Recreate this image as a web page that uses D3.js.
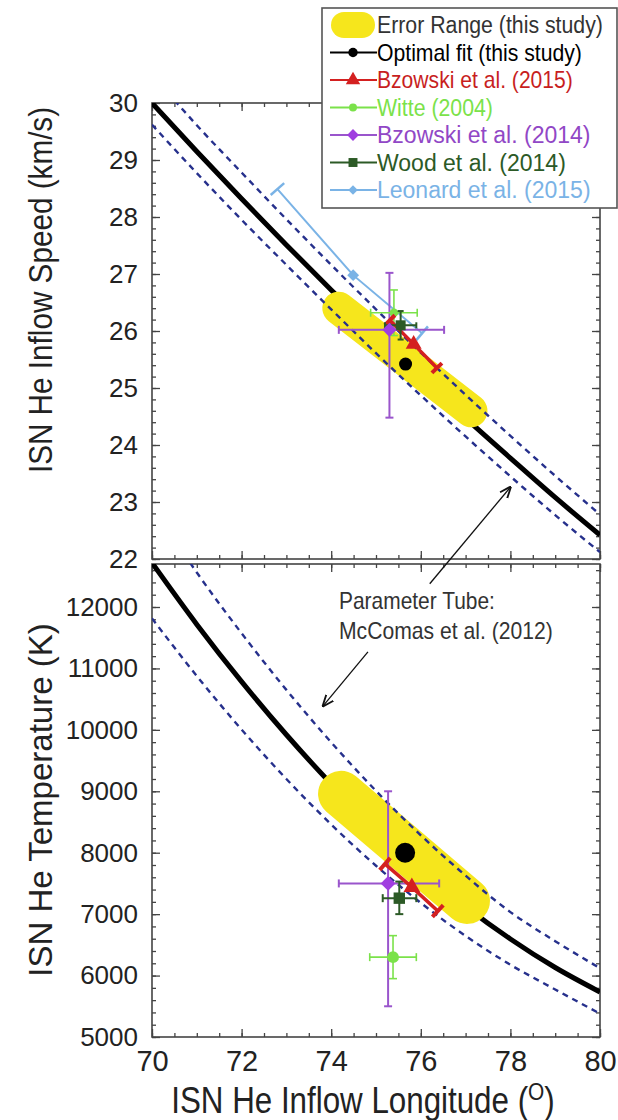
<!DOCTYPE html>
<html lang="en">
<head>
<meta charset="UTF-8" />
<title>ISN He inflow parameters</title>
<script src="https://cdnjs.cloudflare.com/ajax/libs/d3/7.8.5/d3.min.js"></script>
<style>
  body { margin: 0; background: #fff; }
  svg { font-family: "Liberation Sans", Arial, sans-serif; }
  .axis path { display: none; }
  .axis line { stroke: #444; stroke-width: 1.3; }
  .axis text { fill: #222; }
</style>
</head>
<body>
<svg id="chart" width="618" height="1120"></svg>
<script>
// ---- data ----
const lonTicks = [70, 72, 74, 76, 78, 80];
const speedTicks = [22, 23, 24, 25, 26, 27, 28, 29, 30];
const tempTicks = [5000, 6000, 7000, 8000, 9000, 10000, 11000, 12000];

// parameter tube, McComas et al. (2012)
const tubeLon = [70, 71, 72, 73, 74, 75, 76, 77, 78, 79, 80];
const tubeSpeed = [30.0, 29.15, 28.32, 27.51, 26.72, 25.95, 25.2, 24.47, 23.77, 23.08, 22.42];
const tubeSpeedLower = [29.62, 28.77, 27.95, 27.16, 26.38, 25.61, 24.87, 24.15, 23.45, 22.77, 22.12];
const tubeSpeedUpperLon = [70.5, 71, 72, 73, 74, 75, 76, 77, 78, 79, 80];
const tubeSpeedUpper = [30.05, 29.61, 28.78, 27.96, 27.16, 26.38, 25.62, 24.88, 24.16, 23.46, 22.78];
const tubeTemp = [12720, 11717, 10785, 9920, 9121, 8389, 7724, 7126, 6595, 6131, 5733];
const tubeTempLower = [11815, 10876, 10005, 9200, 8460, 7788, 7183, 6646, 6176, 5774, 5380];
const tubeTempUpperLon = [70.85, 71, 72, 73, 74, 75, 76, 77, 78, 79, 80];
const tubeTempUpper = [12720, 12562, 11572, 10651, 9797, 9007, 8284, 7627, 7033, 6560, 6120];

// this study
const errorRangeSpeed = [[74.17, 26.4], [77.12, 24.6]];
const errorRangeTemp = [[74.22, 8958], [77.03, 7215]];
const optimalSpeed = [75.66, 25.42];
const optimalTemp = [75.65, 8000];

// cross error bars: [lon, lonLo, lonHi, value, valueLo, valueHi]
const bzowski14Speed = [75.3, 74.17, 76.52, 26.02, 24.48, 27.02];
const bzowski14Temp = [75.27, 74.17, 76.41, 7500, 5500, 9000];
const witteSpeed = [75.4, 74.88, 75.92, 26.32, 25.92, 26.72];
const witteTemp = [75.38, 74.86, 75.9, 6300, 5950, 6650];
const woodSpeed = [75.55, 75.2, 75.9, 26.1, 25.85, 26.35];
const woodTemp = [75.52, 75.15, 75.9, 7260, 7000, 7530];

// correlated (tilted) error bars: [start, centre, end] as [lon, value]
const bzowski15Speed = [[75.31, 26.19], [75.84, 25.77], [76.36, 25.35]];
const bzowski15Temp = [[75.2, 7818], [75.8, 7440], [76.38, 7052]];
const leonardSpeed = [[72.8, 28.49], [74.49, 26.98], [76.03, 25.96]];

const legendLabels = ["Error Range (this study)", "Optimal fit (this study)", "Bzowski et al. (2015)",
  "Witte (2004)", "Bzowski et al. (2014)", "Wood et al. (2014)", "Leonard et al. (2015)"];

// ---- colours ----
const cYellow = "#f6e61c", cRed = "#d42020", cGreen = "#7be24a", cPurple = "#9a55cc",
  cPurpleMark = "#a03ee0", cWood = "#2c5a26", cBlue = "#7ab3e6", cTube = "#26308c";

const svg = d3.select("#chart");
svg.append("rect").attr("width", 618).attr("height", 1120).attr("fill", "#fff");

const x = d3.scaleLinear().domain([70, 80]).range([152, 600]);
const yV = d3.scaleLinear().domain([22, 30]).range([559, 103]);
const yT = d3.scaleLinear().domain([5000, 12700]).range([1037, 564]);

function drawFrame(y, major, minorStep, showXLabels) {
  const [bottom, top] = y.range();
  const [d0, d1] = y.domain();
  const yMinor = d3.range(d0, d1 + 1e-6, minorStep);
  const xMinor = d3.range(70, 80.01, 0.5);
  const g = svg.append("g");

  const ax = (axis, t, vals, size, fmt) => {
    const a = g.append("g").attr("class", "axis").attr("transform", t)
      .call(axis.tickValues(vals).tickSize(size).tickFormat(fmt || ""));
    return a;
  };
  ax(d3.axisLeft(y), `translate(${x(70)},0)`, yMinor, -4);
  ax(d3.axisRight(y), `translate(${x(80)},0)`, yMinor, -4);
  ax(d3.axisRight(y), `translate(${x(80)},0)`, major, -8);
  ax(d3.axisLeft(y).tickPadding(14), `translate(${x(70)},0)`, major, -8, d3.format("d"))
    .attr("font-size", 26).attr("font-family", null);
  ax(d3.axisTop(x), `translate(0,${top})`, xMinor, -4);
  ax(d3.axisTop(x), `translate(0,${top})`, lonTicks, -8);
  ax(d3.axisBottom(x), `translate(0,${bottom})`, xMinor, -4);
  const b = ax(d3.axisBottom(x).tickPadding(13), `translate(0,${bottom})`, lonTicks, -8,
    showXLabels ? d3.format("d") : "");
  b.attr("font-size", 29).attr("font-family", null);

  g.append("rect").attr("x", x(70)).attr("y", top)
    .attr("width", x(80) - x(70)).attr("height", bottom - top)
    .attr("fill", "none").attr("stroke", "#444").attr("stroke-width", 1.6);
}

function clipFor(id, y) {
  const [bottom, top] = y.range();
  svg.append("clipPath").attr("id", id).append("rect")
    .attr("x", x(70)).attr("y", top).attr("width", x(80) - x(70)).attr("height", bottom - top);
  return svg.append("g").attr("clip-path", `url(#${id})`);
}

function tubeLine(g, y, lons, vals, dashed) {
  const line = d3.line().curve(d3.curveMonotoneX).x(d => x(d[0])).y(d => y(d[1]));
  g.append("path").datum(lons.map((l, i) => [l, vals[i]]))
    .attr("d", line).attr("fill", "none")
    .attr("stroke", dashed ? cTube : "#000")
    .attr("stroke-width", dashed ? 2.4 : 5)
    .attr("stroke-dasharray", dashed ? "6,5" : null);
}

function errorRange(g, y, ends, width) {
  g.append("line")
    .attr("x1", x(ends[0][0])).attr("y1", y(ends[0][1]))
    .attr("x2", x(ends[1][0])).attr("y2", y(ends[1][1]))
    .attr("stroke", cYellow).attr("stroke-width", width).attr("stroke-linecap", "round");
}

function cross(g, y, d, color, width, cap) {
  const [lon, lonLo, lonHi, v, vLo, vHi] = d;
  const seg = (x1, y1, x2, y2) => g.append("line")
    .attr("x1", x1).attr("y1", y1).attr("x2", x2).attr("y2", y2)
    .attr("stroke", color).attr("stroke-width", width);
  seg(x(lonLo), y(v), x(lonHi), y(v));
  seg(x(lon), y(vLo), x(lon), y(vHi));
  [lonLo, lonHi].forEach(l => seg(x(l), y(v) - cap, x(l), y(v) + cap));
  [vLo, vHi].forEach(val => seg(x(lon) - cap, y(val), x(lon) + cap, y(val)));
}

function tilted(g, y, pts, color, width, cap) {
  const p = pts.map(d => [x(d[0]), y(d[1])]);
  g.append("path").attr("d", d3.line()(p)).attr("fill", "none")
    .attr("stroke", color).attr("stroke-width", width);
  [[p[0], p[1]], [p[2], p[1]]].forEach(([end, c]) => {
    const dx = end[0] - c[0], dy = end[1] - c[1], len = Math.hypot(dx, dy);
    const nx = -dy / len * cap, ny = dx / len * cap;
    g.append("line").attr("x1", end[0] - nx).attr("y1", end[1] - ny)
      .attr("x2", end[0] + nx).attr("y2", end[1] + ny)
      .attr("stroke", color).attr("stroke-width", width + 0.5);
  });
}

function marker(g, px, py, type, size, color, rot) {
  g.append("path").attr("d", d3.symbol().type(type).size(size)())
    .attr("transform", `translate(${px},${py}) rotate(${rot || 0})`)
    .attr("fill", color);
}

// text squeezed horizontally to a measured width (the figure's lettering is narrow)
function narrowText(parent, px, py, str, size, width, color) {
  const t = parent.append("text").attr("font-size", size).attr("fill", color).text(str);
  const k = Math.min(1, width / t.node().getComputedTextLength());
  t.attr("transform", `translate(${px},${py}) scale(${k},1)`);
  return t;
}

// ---- top panel: speed ----
drawFrame(yV, speedTicks, 0.2, false);
const gV = clipFor("clipV", yV);
tubeLine(gV, yV, tubeLon, tubeSpeed, false);
errorRange(gV, yV, errorRangeSpeed, 33);
tubeLine(gV, yV, tubeLon, tubeSpeedLower, true);
tubeLine(gV, yV, tubeSpeedUpperLon, tubeSpeedUpper, true);
tilted(gV, yV, leonardSpeed, cBlue, 2, 9);
marker(gV, x(leonardSpeed[1][0]), yV(leonardSpeed[1][1]), d3.symbolSquare, 70, cBlue, 45);
cross(gV, yV, bzowski14Speed, cPurple, 2, 4);
cross(gV, yV, witteSpeed, cGreen, 1.6, 4);
marker(gV, x(witteSpeed[0]), yV(witteSpeed[3]), d3.symbolCircle, 60, cGreen);
tilted(gV, yV, bzowski15Speed, cRed, 3.5, 7);
marker(gV, x(bzowski15Speed[1][0]), yV(bzowski15Speed[1][1]), d3.symbolTriangle, 110, cRed);
cross(gV, yV, woodSpeed, cWood, 2, 3);
marker(gV, x(woodSpeed[0]), yV(woodSpeed[3]), d3.symbolSquare, 100, cWood);
marker(gV, x(bzowski14Speed[0]), yV(bzowski14Speed[3]), d3.symbolSquare, 100, cPurpleMark, 45);
gV.append("circle").attr("cx", x(optimalSpeed[0])).attr("cy", yV(optimalSpeed[1]))
  .attr("r", 6.5).attr("fill", "#000");

// ---- bottom panel: temperature ----
drawFrame(yT, tempTicks, 200, true);
const gT = clipFor("clipT", yT);
tubeLine(gT, yT, tubeLon, tubeTemp, false);
errorRange(gT, yT, errorRangeTemp, 46);
tubeLine(gT, yT, tubeLon, tubeTempLower, true);
tubeLine(gT, yT, tubeTempUpperLon, tubeTempUpper, true);
cross(gT, yT, bzowski14Temp, cPurple, 2, 4);
cross(gT, yT, witteTemp, cGreen, 1.6, 4);
marker(gT, x(witteTemp[0]), yT(witteTemp[3]), d3.symbolCircle, 110, cGreen);
cross(gT, yT, woodTemp, cWood, 2, 4);
marker(gT, x(woodTemp[0]), yT(woodTemp[3]), d3.symbolSquare, 130, cWood);
tilted(gT, yT, bzowski15Temp, cRed, 3.5, 8);
marker(gT, x(bzowski15Temp[1][0]), yT(bzowski15Temp[1][1]), d3.symbolTriangle, 120, cRed);
marker(gT, x(bzowski14Temp[0]), yT(bzowski14Temp[3]), d3.symbolSquare, 110, cPurpleMark, 45);
gT.append("circle").attr("cx", x(optimalTemp[0])).attr("cy", yT(optimalTemp[1]))
  .attr("r", 10).attr("fill", "#000");

// ---- annotation: parameter tube ----
svg.append("defs").append("marker").attr("id", "arrow")
  .attr("viewBox", "0 -5 10 10").attr("refX", 9).attr("refY", 0)
  .attr("markerWidth", 9).attr("markerHeight", 9).attr("orient", "auto")
  .append("path").attr("d", "M0,-4L10,0L0,4").attr("fill", "none")
  .attr("stroke", "#111").attr("stroke-width", 1.6);
svg.append("line").attr("x1", x(76.2)).attr("y1", yT(12378))
  .attr("x2", x(78.0)).attr("y2", yV(23.26))
  .attr("stroke", "#111").attr("stroke-width", 1.3).attr("marker-end", "url(#arrow)");
svg.append("line").attr("x1", x(74.82)).attr("y1", yT(11270))
  .attr("x2", x(73.82)).attr("y2", yT(10391))
  .attr("stroke", "#111").attr("stroke-width", 1.3).attr("marker-end", "url(#arrow)");
narrowText(svg, 339, 609, "Parameter Tube:", 23, 156, "#333");
narrowText(svg, 339, 639, "McComas et al. (2012)", 23, 214, "#333");

// ---- axis titles ----
svg.append("text").attr("transform", "translate(52,290) rotate(-90) scale(0.9,1)")
  .attr("text-anchor", "middle").attr("font-size", 33).attr("fill", "#222")
  .text("ISN He Inflow Speed (km/s)");
svg.append("text").attr("transform", "translate(52,800) rotate(-90)")
  .attr("text-anchor", "middle").attr("font-size", 33).attr("fill", "#222")
  .text("ISN He Temperature (K)");
const xt = svg.append("text").attr("transform", "translate(363,1113) scale(0.87,1)")
  .attr("text-anchor", "middle").attr("font-size", 36).attr("fill", "#222");
xt.append("tspan").text("ISN He Inflow Longitude (");
xt.append("tspan").attr("font-size", 24).attr("dy", -13).text("O");
xt.append("tspan").attr("dy", 13).text(")");

// ---- legend ----
const legend = svg.append("g");
legend.append("rect").attr("x", 322).attr("y", 8).attr("width", 295).attr("height", 200)
  .attr("fill", "#fff").attr("stroke", "#555").attr("stroke-width", 1.6);
const legendColors = ["#333", "#000", "#c81e1e", cGreen, "#9147c6", cWood, cBlue];
const legendWidths = [226, 205, 196, 116, 230, 208, 231];
legendLabels.forEach((label, i) => {
  const cy = 25 + i * 27.5;
  if (i === 0) {
    legend.append("line").attr("x1", 344).attr("x2", 362).attr("y1", cy).attr("y2", cy)
      .attr("stroke", cYellow).attr("stroke-width", 26).attr("stroke-linecap", "round");
  } else {
    const col = [null, "#000", cRed, cGreen, cPurple, cWood, cBlue][i];
    legend.append("line").attr("x1", 330).attr("x2", 377).attr("y1", cy).attr("y2", cy)
      .attr("stroke", col).attr("stroke-width", 2);
    const sym = [null, d3.symbolCircle, d3.symbolTriangle, d3.symbolCircle, d3.symbolSquare,
      d3.symbolSquare, d3.symbolSquare][i];
    const rot = [0, 0, 0, 0, 45, 0, 45][i];
    const size = [0, 70, 90, 50, 70, 80, 45][i];
    const mcol = [null, "#000", cRed, cGreen, cPurpleMark, cWood, cBlue][i];
    marker(legend, 353, cy, sym, size, mcol, rot);
  }
  narrowText(legend, 377, cy + 8, label, 23, legendWidths[i], legendColors[i]);
});
</script>
</body>
</html>
